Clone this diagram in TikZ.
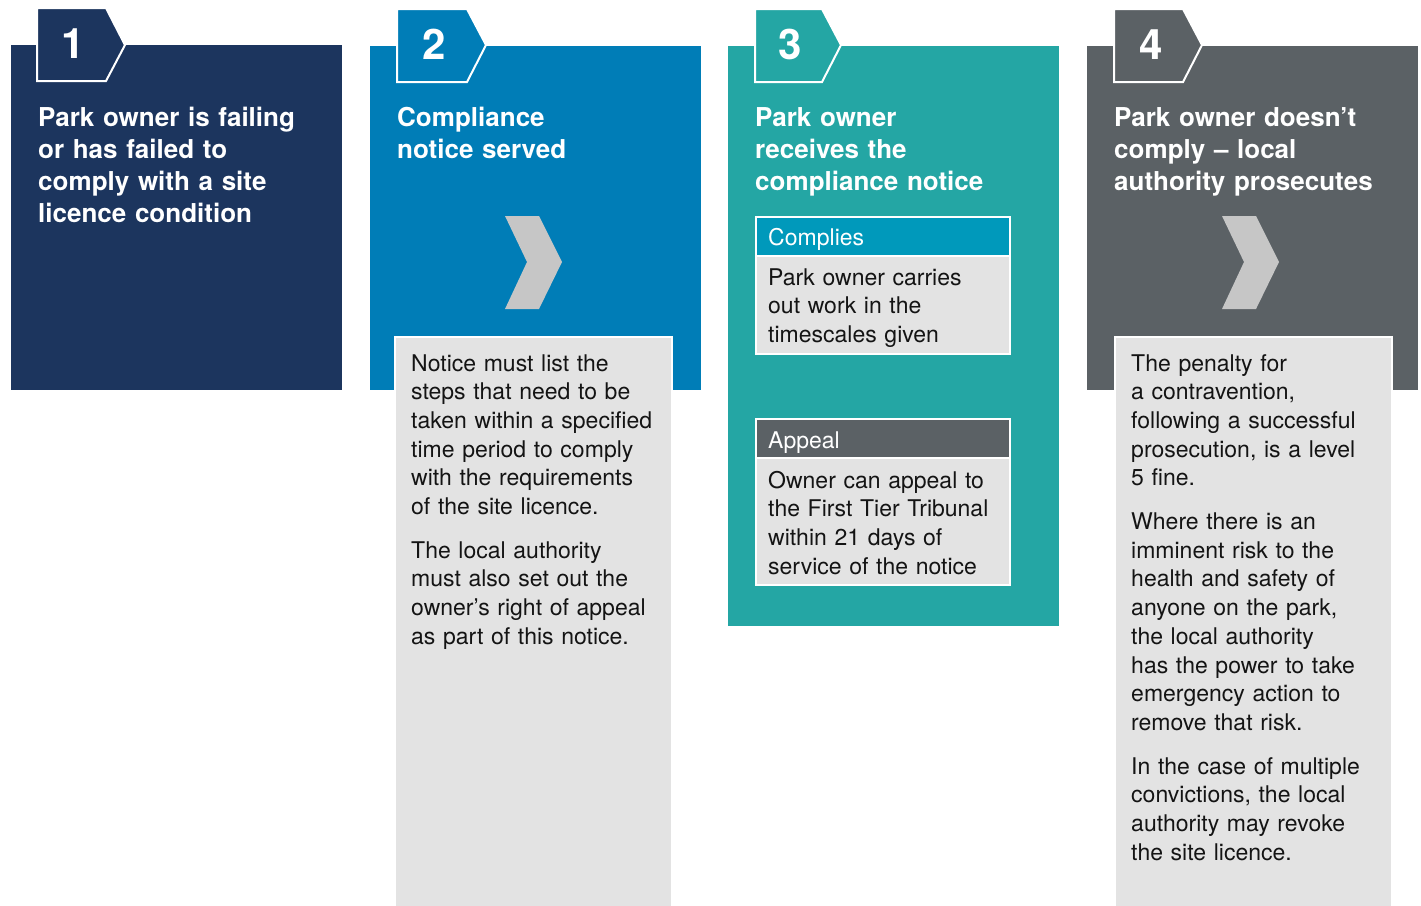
\documentclass[tikz,border=0pt]{standalone}
\usepackage{fontspec}
\setmainfont{TeX Gyre Heros}
\definecolor{navy}{RGB}{28,53,94}
\definecolor{pblue}{RGB}{0,125,183}
\definecolor{pteal}{RGB}{36,166,164}
\definecolor{pgray}{RGB}{91,97,101}
\definecolor{boxgray}{RGB}{227,227,227}
\definecolor{chevgray}{RGB}{198,198,198}
\definecolor{hdrblue}{RGB}{0,153,187}
\definecolor{txt}{RGB}{20,20,20}
\begin{document}
\begin{tikzpicture}[x=1pt,y=-1pt,
  title/.style={anchor=base west, inner sep=0pt, text=white, text width=320pt, align=left,
    font=\fontsize{26}{32}\selectfont\bfseries},
  body/.style={anchor=base west, inner sep=0pt, text=txt, text width=270pt, align=left,
    font=\fontsize{23}{28.7}\selectfont},
  hdr/.style={anchor=base west, inner sep=0pt, text=white, font=\fontsize{23}{28.7}\selectfont},
  num/.style={anchor=base, inner sep=0pt, text=white, font=\fontsize{42}{42}\selectfont\bfseries},
  tabshape/.style={draw=white, line width=2pt},
  chev/.style={fill=chevgray},
  infobox/.style={fill=boxgray, draw=white, line width=2.5pt}
]
\useasboundingbox (0,0) rectangle (1421,905);

% ---------- panel 1 ----------
\fill[navy] (11,45) rectangle (342,390);
\draw[tabshape, fill=navy] (37,8) -- (106,8) -- (125,45) -- (106,81) -- (37,81) -- cycle;
\node[num] (n1) at (73,58) {1};
\node[title] (t1) at (38,126) {Park owner is failing\\or has failed to\\comply with a site\\licence condition};

% ---------- panel 2 ----------
\fill[pblue] (370,46) rectangle (701,390);
\draw[tabshape, fill=pblue] (397,9) -- (467,9) -- (486,45) -- (467,82) -- (397,82) -- cycle;
\node[num] (n2) at (434,59) {2};
\node[title] (t2) at (397,126) {Compliance\\notice served};
\fill[chev] (505,216) -- (539,216) -- (562,262) -- (539,309) -- (505,309) -- (527,262) -- cycle;
\draw[infobox] (395,337) rectangle (672,910);
\node[body] (b2) at (411,371) {Notice must list the\\steps that need to be\\taken within a specified\\time period to comply\\with the requirements\\of the site licence.\\[15pt]The local authority\\must also set out the\\owner’s right of appeal\\as part of this notice.};

% ---------- panel 3 ----------
\fill[pteal] (728,46) rectangle (1059,626);
\draw[tabshape, fill=pteal] (755,9) -- (822,9) -- (841,45) -- (822,82) -- (755,82) -- cycle;
\node[num] (n3) at (790,59) {3};
\node[title] (t3) at (755,126) {Park owner\\receives the\\compliance notice};
% complies box
\draw[infobox] (756,256) rectangle (1010,354);
\draw[fill=hdrblue, draw=white, line width=2.5pt] (756,217) rectangle (1010,256);
\node[hdr] (h3a) at (768,245) {Complies};
\node[body] (b3a) at (768,285) {Park owner carries\\out work in the\\timescales given};
% appeal box
\draw[infobox] (756,458) rectangle (1010,585);
\draw[fill=pgray, draw=white, line width=2.5pt] (756,419) rectangle (1010,458);
\node[hdr] (h3b) at (768,448) {Appeal};
\node[body] (b3b) at (768,488) {Owner can appeal to\\the First Tier Tribunal\\within 21 days of\\service of the notice};

% ---------- panel 4 ----------
\fill[pgray] (1087,46) rectangle (1418,390);
\draw[tabshape, fill=pgray] (1114,9) -- (1183,9) -- (1202,45) -- (1183,82) -- (1114,82) -- cycle;
\node[num] (n4) at (1151,59) {4};
\node[title] (t4) at (1114,126) {Park owner doesn’t\\comply – local\\authority prosecutes};
\fill[chev] (1222,216) -- (1256,216) -- (1279,262) -- (1256,309) -- (1222,309) -- (1244,262) -- cycle;
\draw[infobox] (1115,337) rectangle (1392,910);
\node[body] (b4) at (1131,371) {The penalty for\\a contravention,\\following a successful\\prosecution, is a level\\5 fine.\\[15pt]Where there is an\\imminent risk to the\\health and safety of\\anyone on the park,\\the local authority\\has the power to take\\emergency action to\\remove that risk.\\[15pt]In the case of multiple\\convictions, the local\\authority may revoke\\the site licence.};
\end{tikzpicture}
\end{document}
